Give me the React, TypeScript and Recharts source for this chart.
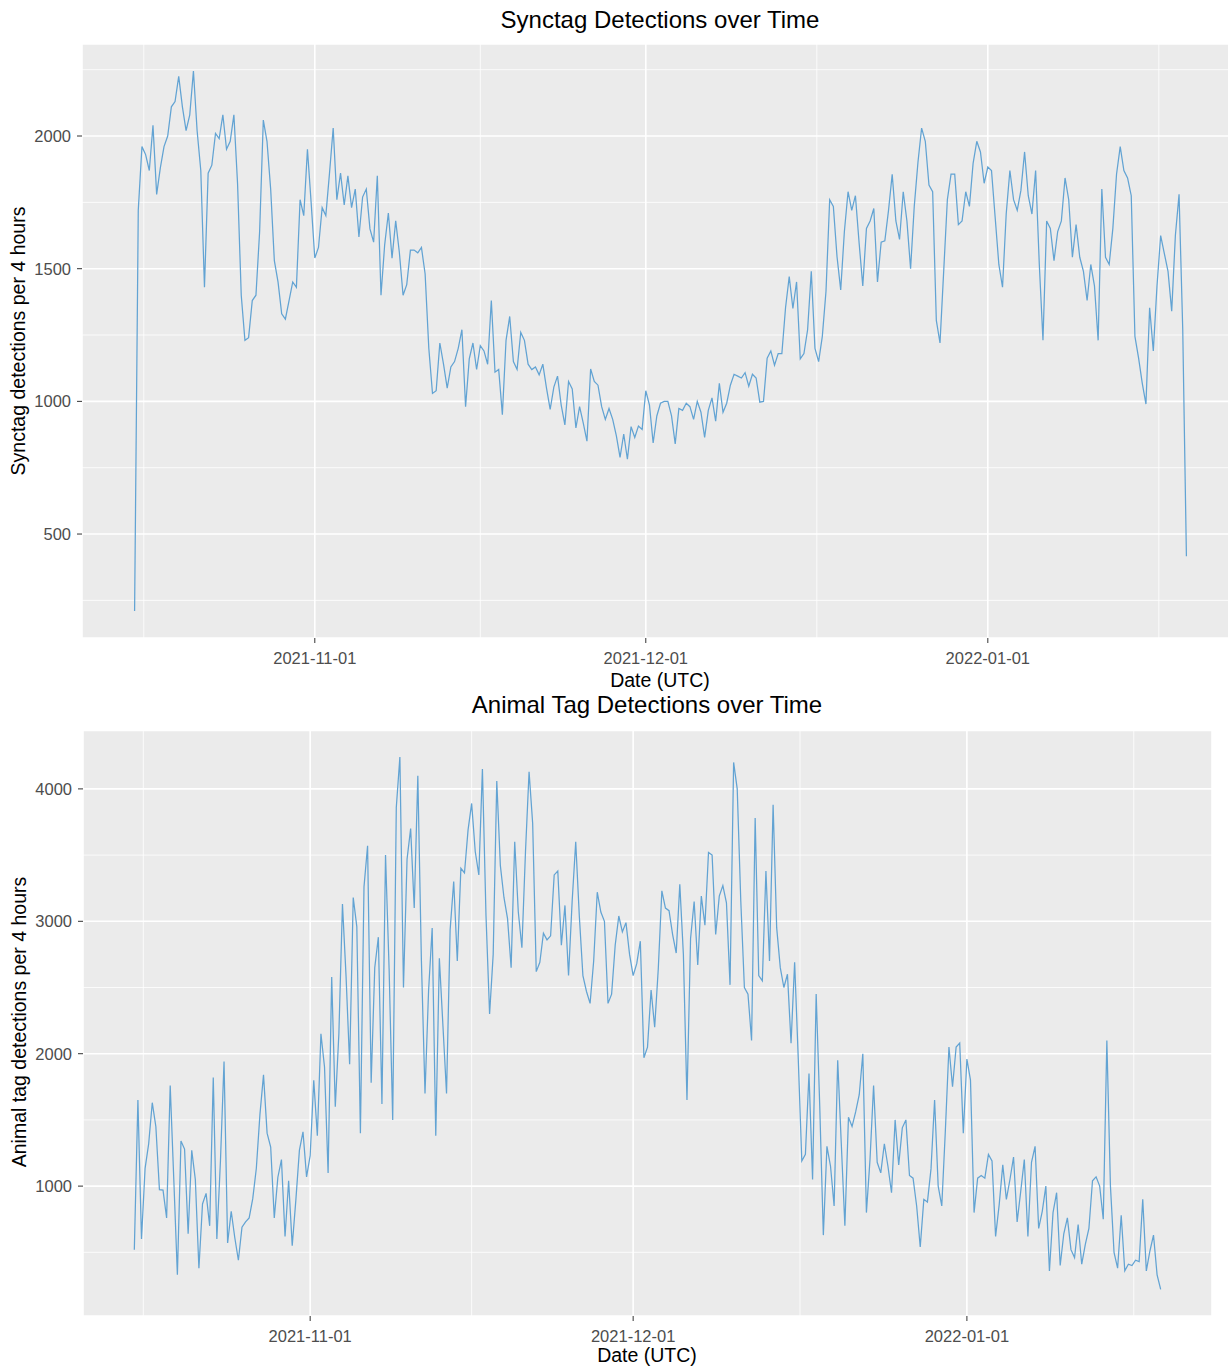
import React from "react";
import { LineChart, Line, XAxis, YAxis, CartesianGrid, ReferenceLine } from "recharts";

const FONT = '"Liberation Sans", Arial, sans-serif';
const LINE_COLOR = "#62A3D3";
const PANEL_BG = "#EBEBEB";

// detections are binned per 4 hours; the series below keeps one bin every 8 hours
const SERIES_START = Date.UTC(2021, 9, 15, 16);
const STEP_MS = 8 * 60 * 60 * 1000;

const xTickDates = [Date.UTC(2021, 10, 1), Date.UTC(2021, 11, 1), Date.UTC(2022, 0, 1)];
const xTickLabels = ["2021-11-01", "2021-12-01", "2022-01-01"];
const xMinorDates = [
  Date.UTC(2021, 9, 16, 12),
  Date.UTC(2021, 10, 16),
  Date.UTC(2021, 11, 16, 12),
  Date.UTC(2022, 0, 16, 12)
];

const synctagTicks = [500, 1000, 1500, 2000];
const synctagMinor = [250, 750, 1250, 1750, 2250];
const animalTicks = [1000, 2000, 3000, 4000];
const animalMinor = [500, 1500, 2500, 3500];

const synctagCounts = [
  210, 1720, 1960, 1930, 1870, 2040, 1780, 1880, 1960, 2000, 2110, 2130,
  2225, 2110, 2020, 2080, 2245, 2020, 1870, 1430, 1860, 1890, 2010, 1990,
  2080, 1950, 1980, 2080, 1820, 1400, 1230, 1240, 1380, 1400, 1640, 2060,
  1980, 1800, 1530, 1450, 1330, 1310, 1380, 1450, 1430, 1760, 1700, 1950,
  1750, 1540, 1580, 1730, 1700, 1860, 2030, 1760, 1860, 1740, 1850, 1730,
  1800, 1620, 1770, 1800, 1650, 1600, 1850, 1400, 1590, 1710, 1540, 1680,
  1560, 1400, 1440, 1570, 1570, 1560, 1580, 1480, 1200, 1030, 1040, 1220,
  1140, 1050, 1130, 1150, 1200, 1270, 980, 1160, 1220, 1120, 1210, 1190,
  1140, 1380, 1110, 1120, 950, 1230, 1320, 1150, 1120, 1260, 1230, 1140,
  1120, 1130, 1100, 1140, 1050, 970, 1054, 1095, 986, 911, 1075, 1047,
  900, 980, 918, 850, 1122, 1075, 1061, 980, 932, 973, 932, 870,
  789, 877, 782, 905, 864, 907, 894, 1040, 986, 843, 945, 993,
  1000, 1000, 945, 840, 973, 966, 993, 980, 932, 1000, 959, 864,
  966, 1013, 925, 1068, 959, 993, 1061, 1102, 1095, 1088, 1108, 1057,
  1102, 1088, 997, 1000, 1163, 1190, 1136, 1180, 1180, 1353, 1470, 1350,
  1450, 1160, 1180, 1270, 1490, 1200, 1150, 1245, 1415, 1760, 1735, 1545,
  1420, 1640, 1790, 1720, 1775, 1598, 1435, 1652, 1680, 1727, 1450, 1600,
  1605, 1720, 1856, 1680, 1610, 1790, 1680, 1500, 1735, 1900, 2030, 1980,
  1815, 1790, 1305, 1220, 1490, 1760, 1856, 1856, 1666, 1680, 1790, 1735,
  1897, 1980, 1940, 1822, 1883, 1870, 1693, 1516, 1430, 1706, 1870, 1760,
  1720, 1795, 1940, 1775, 1706, 1870, 1516, 1230, 1680, 1652, 1530, 1640,
  1680, 1842, 1760, 1543, 1666, 1543, 1490, 1380, 1516, 1435, 1230, 1800,
  1543, 1516, 1652, 1856, 1960, 1870, 1842, 1775, 1245, 1163, 1068, 990,
  1353, 1190, 1435, 1625, 1557, 1490, 1340, 1625, 1780, 1272, 416
];

const animalTagCounts = [
  520, 1650, 600, 1134, 1320, 1630, 1450, 973, 970, 760, 1760, 1050,
  330, 1340, 1280, 640, 1270, 1050, 380, 865, 945, 700, 1820, 600,
  1190, 1941, 570, 810, 610, 440, 690, 730, 760, 905, 1135, 1540,
  1840, 1400, 1295, 760, 1067, 1200, 620, 1040, 550, 890, 1270, 1410,
  1070, 1230, 1800, 1380, 2150, 1900, 1100, 2580, 1600, 2150, 3130, 2586,
  1920, 3180, 2960, 1400, 3260, 3570, 1780, 2650, 2880, 1620, 3500, 2640,
  1500, 3860, 4240, 2500, 3470, 3700, 3100, 4100, 2700, 1700, 2478, 2949,
  1380, 2720, 2210, 1700, 2935, 3300, 2700, 3400, 3365, 3690, 3890, 3527,
  3350, 4150, 3040, 2300, 2750, 4060, 3420, 3180, 3020, 2650, 3600, 3070,
  2800, 3525, 4130, 3740, 2620, 2690, 2910, 2860, 2890, 3350, 3380, 2820,
  3120, 2590, 3150, 3600, 3040, 2590, 2470, 2380, 2700, 3220, 3070, 3000,
  2380, 2450, 2820, 3040, 2920, 2990, 2750, 2590, 2680, 2850, 1970, 2050,
  2480, 2200, 2640, 3230, 3100, 3080, 2900, 2760, 3280, 2750, 1650, 2870,
  3150, 2670, 3190, 2970, 3520, 3500, 2900, 3190, 3270, 3140, 2520, 4200,
  4000, 3150, 2500, 2450, 2100, 3780, 2590, 2550, 3380, 2700, 3880, 2950,
  2650, 2500, 2600, 2080, 2690, 1970, 1190, 1240, 1850, 1050, 2450, 1600,
  630, 1300, 1150, 850, 1950, 1320, 700, 1520, 1450, 1560, 1690, 2000,
  800, 1200, 1760, 1180, 1100, 1320, 1150, 950, 1500, 1160, 1440, 1500,
  1080, 1060, 850, 540, 900, 880, 1130, 1650, 1000, 850, 1420, 2050,
  1750, 2050, 2080, 1400, 1960, 1800, 800, 1060, 1080, 1060, 1240, 1190,
  620, 860, 1160, 900, 1050, 1220, 730, 960, 1200, 620, 1180, 1300,
  680, 810, 1000, 360, 800, 950, 400, 640, 760, 520, 460, 710,
  410, 560, 680, 1040, 1070, 1000, 750, 2100, 1000, 500, 380, 780,
  360, 410, 400, 440, 430, 900, 360, 510, 630, 330, 220
];

const toRows = (values: number[]) =>
  values.map((count, i) => ({ time: SERIES_START + i * STEP_MS, count }));

// ggplot-style continuous scale expansion (5% on each side)
const expand = (lo: number, hi: number): [number, number] => {
  const pad = (hi - lo) * 0.05;
  return [lo - pad, hi + pad];
};

const formatDate = (v: number) => {
  const i = xTickDates.indexOf(v);
  return i >= 0 ? xTickLabels[i] : "";
};

interface PanelProps {
  values: number[];
  width: number;
  height: number;
  marginTop: number;
  marginRight: number;
  yAxisWidth: number;
  xAxisHeight: number;
  yTicks: number[];
  yMinor: number[];
}

function Panel({ values, width, height, marginTop, marginRight, yAxisWidth, xAxisHeight, yTicks, yMinor }: PanelProps) {
  const rows = toRows(values);
  const xDomain = expand(rows[0].time, rows[rows.length - 1].time);
  const yDomain = expand(Math.min(...values), Math.max(...values));
  const tickStyle = { fill: "#4D4D4D", fontSize: 16.5, fontFamily: FONT };

  return (
    <LineChart
      width={width}
      height={height}
      data={rows}
      margin={{ top: marginTop, right: marginRight, bottom: 0, left: 0 }}
    >
      <CartesianGrid fill={PANEL_BG} fillOpacity={1} stroke="#FFFFFF" strokeWidth={1.6} />
      {yMinor.map((v) => (
        <ReferenceLine key={`y${v}`} y={v} stroke="#FFFFFF" strokeWidth={0.8} />
      ))}
      {xMinorDates.map((v) => (
        <ReferenceLine key={`x${v}`} x={v} stroke="#FFFFFF" strokeWidth={0.8} />
      ))}
      <XAxis
        dataKey="time"
        type="number"
        domain={xDomain}
        allowDataOverflow
        ticks={xTickDates}
        interval={0}
        tickFormatter={formatDate}
        height={xAxisHeight}
        axisLine={false}
        tickLine={{ stroke: "#333333" }}
        tickSize={5}
        tickMargin={9}
        tick={tickStyle}
      />
      <YAxis
        type="number"
        domain={yDomain}
        allowDataOverflow
        ticks={yTicks}
        interval={0}
        width={yAxisWidth}
        axisLine={false}
        tickLine={{ stroke: "#333333" }}
        tickSize={5}
        tickMargin={6}
        tick={tickStyle}
      />
      <Line
        type="linear"
        dataKey="count"
        stroke={LINE_COLOR}
        strokeWidth={1.25}
        dot={false}
        activeDot={false}
        isAnimationActive={false}
      />
    </LineChart>
  );
}

const centered = (x: number, y: number, size: number, color = "#000000", rotate = false): React.CSSProperties => ({
  position: "absolute",
  left: x,
  top: y,
  transform: `translate(-50%, -50%)${rotate ? " rotate(-90deg)" : ""}`,
  fontFamily: FONT,
  fontSize: size,
  color,
  lineHeight: 1,
  whiteSpace: "nowrap"
});

export default function App() {
  return (
    <div
      style={{
        position: "absolute",
        left: 0,
        top: 0,
        width: 1228,
        height: 1368,
        overflow: "hidden",
        background: "#FFFFFF"
      }}
    >
      {/* synctag panel: plot area runs past the right edge and is clipped */}
      <div style={{ position: "absolute", left: 0, top: 0 }}>
        <Panel
          values={synctagCounts}
          width={1240}
          height={690}
          marginTop={44}
          marginRight={1}
          yAxisWidth={82}
          xAxisHeight={52}
          yTicks={synctagTicks}
          yMinor={synctagMinor}
        />
      </div>
      <div style={centered(660, 20, 24)}>Synctag Detections over Time</div>
      <div style={centered(19, 341, 19.5, "#000000", true)}>Synctag detections per 4 hours</div>
      <div style={centered(660, 681, 19.5)}>Date (UTC)</div>

      {/* animal tag panel */}
      <div style={{ position: "absolute", left: 0, top: 690 }}>
        <Panel
          values={animalTagCounts}
          width={1228}
          height={678}
          marginTop={40.5}
          marginRight={16}
          yAxisWidth={83}
          xAxisHeight={52}
          yTicks={animalTicks}
          yMinor={animalMinor}
        />
      </div>
      <div style={centered(647, 705, 24)}>Animal Tag Detections over Time</div>
      <div style={centered(20, 1022, 19.5, "#000000", true)}>Animal tag detections per 4 hours</div>
      <div style={centered(647, 1356, 19.5)}>Date (UTC)</div>
    </div>
  );
}
